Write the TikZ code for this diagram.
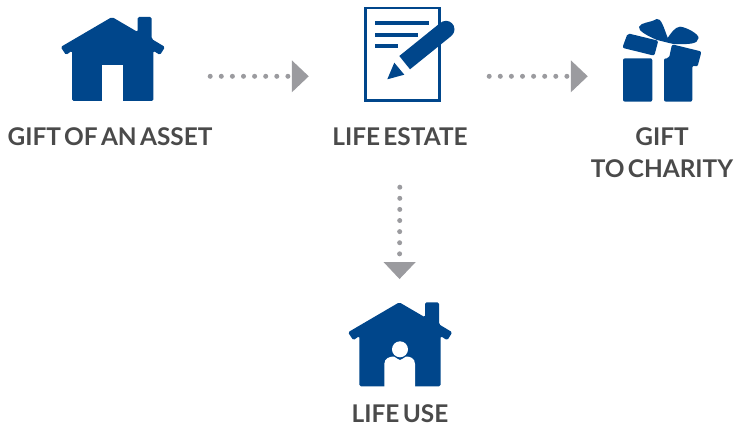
\documentclass[tikz,border=0pt]{standalone}
\usepackage{fontspec}
\setmainfont{Lato}[WordSpace=0.55]
\usetikzlibrary{arrows.meta,positioning}
\definecolor{iconblue}{HTML}{00468B}
\definecolor{flowgray}{HTML}{9B9B9F}
\definecolor{textgray}{HTML}{4A4A4A}
\tikzset{
	icon/.style={inner sep=0pt,minimum height=84pt},
	caption/.style={text=textgray,font=\bfseries\fontsize{24.4}{32}\selectfont,align=center,inner sep=0pt},
	flow/.style={flowgray,line width=5pt,line cap=round,dash pattern=on 0pt off 11.1pt,
		-{Triangle[length=17pt,width=31pt]}},
	pics/house/.style={code={
		\fill[iconblue,rounded corners=1.5pt] (0,-42) -- (25.7,-27) -- (25.7,-42) -- (39.7,-42) -- (39.7,-20) -- (53,-12)
			-- (48,-4) -- (41.3,-8.3) -- (41.3,42) -- (-40,42) -- (-40,-8.3) -- (-46,-4) -- (-51.3,-12) -- cycle;
	}}
}
\begin{document}
\begin{tikzpicture}[x=1pt,y=-1pt]
	\useasboundingbox (0,0) rectangle (734,425);
	% icons
	\pic at (112,59) {house};
	\fill[white] (102.3,65) rectangle (122.7,101.5);

	\draw[iconblue,line width=2.7pt] (365.3,8) rectangle (439.7,100.4);
	\fill[iconblue] (375,21) rectangle (429,25);
	\fill[iconblue] (375,32.7) rectangle (418,36.7);
	\fill[iconblue] (375,43.7) rectangle (398,47.7);
	\fill[iconblue] (399.3,56) -- (440.65,22.65) -- (451.35,35.95) -- (410,69.3) -- cycle (446,29.3) circle (8.5);
	\fill[iconblue] (394.3,62.7) -- (404.3,74.7) -- (387.3,79.3) -- cycle;

	\fill[iconblue,rounded corners=2pt] (623,58.3) -- (652.3,58.3) -- (652.3,101.7) -- (623,101.7) -- cycle;
	\fill[iconblue,rounded corners=2pt] (664,58.3) -- (669,58.3) -- (672,44.3) -- (701.5,51.5) -- (697.5,66.7) -- (692.3,65.5) -- (692.3,101.7) -- (664,101.7) -- cycle;
	\fill[iconblue,rounded corners=2pt] (627.7,33.3) -- (658.3,40.7) -- (654.3,55.7) -- (622.3,47.8) -- cycle;
	\fill[iconblue] (657,40) .. controls (648,36) and (638,31) .. (639,27) .. controls (641,22) and (650,23) .. (656.7,19) .. controls (661,17.5) and (664,28) .. (667.7,38) .. controls (671,33) and (675,27) .. (680,26.7) .. controls (686,27) and (699,34) .. (698.5,38) .. controls (698,44) and (690,44.5) .. (673.3,44) -- cycle;

	\pic at (399.3,344.3) {house};
	\fill[white] (400,349.3) circle (8);
	\fill[white] (384.3,387) -- (384.3,364) .. controls (384.3,358) and (390,356.5) .. (394,356.5) .. controls (397,358) and (398,360) .. (400,360) .. controls (402,360) and (403,358) .. (406,356.5) .. controls (410,356.5) and (415,358) .. (415,364) -- (415,387) -- cycle;

	% names for the connectors
	\node[icon,minimum width=105pt] (asset) at (112.5,76.3) {};
	\node[icon,minimum width=90pt] (estate) at (409,76.3) {};
	\node[icon,minimum width=80pt] (gift) at (662,76.3) {};
	\node[icon,minimum width=105pt] (use) at (399.3,344.3) {};

	\node[caption] (assettext) at (110,137) {GIFT OF AN ASSET};
	\node[caption] (estatetext) at (400,137) {LIFE ESTATE};
	\node[caption] (gifttext) at (662,153) {GIFT\\TO CHARITY};
	\node[caption] (usetext) at (400,414) {LIFE USE};

	\draw[flow,shorten <=45pt,shorten >=55pt] (asset) -- (estate);
	\draw[flow,shorten <=35pt,shorten >=34pt] (estate) -- (gift);
	\draw[flow,shorten <=41pt,shorten >=23pt] (estatetext) -- (use);
\end{tikzpicture}
\end{document}
